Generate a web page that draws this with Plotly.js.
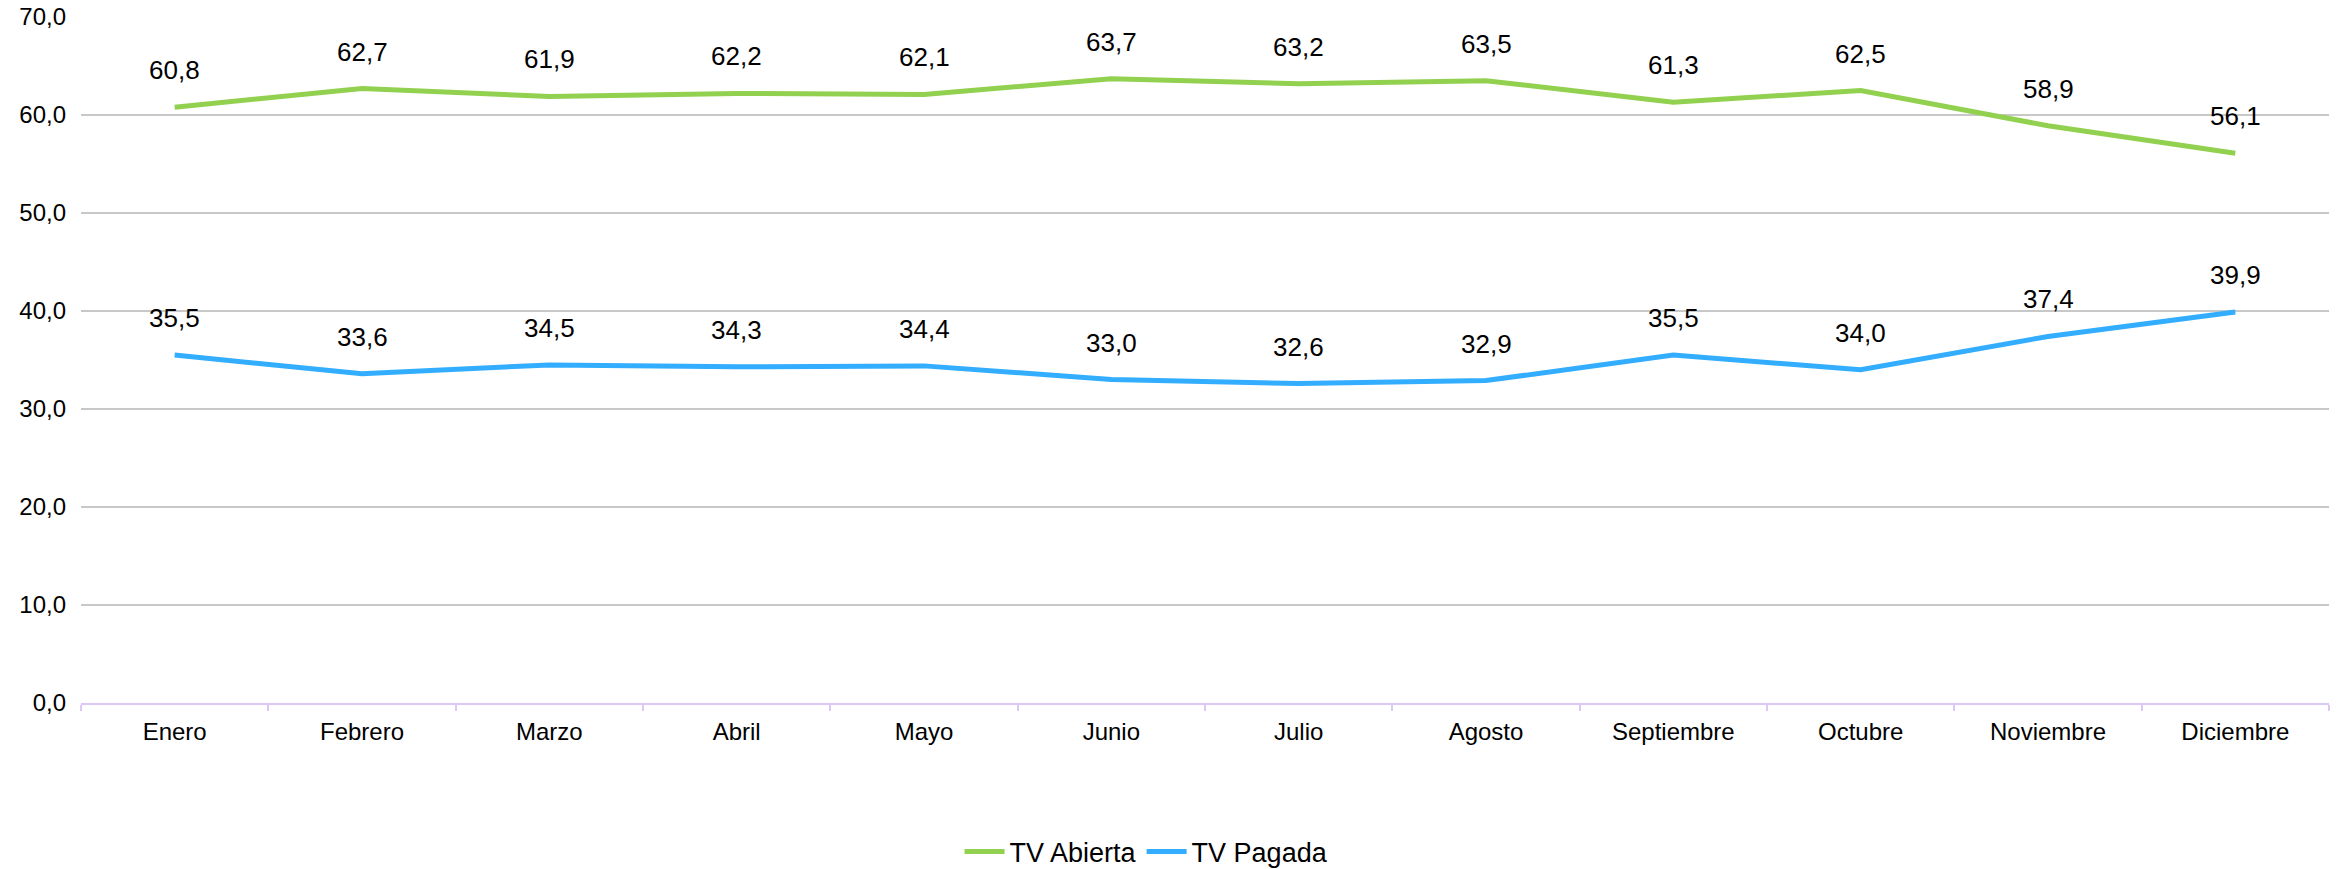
<!DOCTYPE html>
<html>
<head>
<meta charset="utf-8">
<script src="https://cdn.plot.ly/plotly-3.0.1.min.js"></script>
<style>html,body{margin:0;padding:0;background:#fff;}#chart{width:2341px;height:869px;}</style>
</head>
<body>
<div id="chart"></div>
<script>
const months = ["Enero","Febrero","Marzo","Abril","Mayo","Junio","Julio","Agosto","Septiembre","Octubre","Noviembre","Diciembre"];
const tvAbierta = [60.8, 62.7, 61.9, 62.2, 62.1, 63.7, 63.2, 63.5, 61.3, 62.5, 58.9, 56.1];
const tvPagada = [35.5, 33.6, 34.5, 34.3, 34.4, 33.0, 32.6, 32.9, 35.5, 34.0, 37.4, 39.9];
const yTicks = [0, 10, 20, 30, 40, 50, 60, 70];

const FONT = "Liberation Sans, Arial, sans-serif";
const fmt = v => v.toFixed(1).replace('.', ',');

const traces = [
  {x: months, y: tvAbierta, name: "TV Abierta", type: "scatter", mode: "lines",
   line: {color: "#92D050", width: 5}},
  {x: months, y: tvPagada, name: "TV Pagada", type: "scatter", mode: "lines",
   line: {color: "#33ADFF", width: 5}}
];

const annotations = [];
[tvAbierta, tvPagada].forEach(series => {
  series.forEach((v, i) => {
    annotations.push({x: months[i], y: v, xref: "x", yref: "y", text: fmt(v),
      showarrow: false, yshift: 37, font: {family: FONT, size: 26, color: "#000"}});
  });
});

const layout = {
  width: 2341, height: 869,
  margin: {l: 81, r: 12, t: 17, b: 166, autoexpand: false},
  paper_bgcolor: "#fff", plot_bgcolor: "#fff",
  separators: ",.",
  showlegend: true,
  legend: {orientation: "h", x: 0.474, xanchor: "center", y: -0.217, yanchor: "middle",
    itemwidth: 40, font: {family: FONT, size: 27, color: "#000"}},
  xaxis: {type: "category", range: [-0.5, months.length - 0.5], tickson: "boundaries",
    ticks: "outside", ticklen: 6, automargin: false,
    tickcolor: "#DCC8F5", tickwidth: 2, showline: true, linecolor: "#DCC8F5", linewidth: 2,
    showgrid: false, ticklabelstandoff: 6,
    tickfont: {family: FONT, size: 24, color: "#000"}},
  yaxis: {range: [0, 70], tickvals: yTicks, ticktext: yTicks.map(fmt), automargin: false,
    showgrid: true, gridcolor: "#C8C8C8", gridwidth: 1.5, zeroline: false,
    ticks: "", ticklabelstandoff: 14,
    tickfont: {family: FONT, size: 24, color: "#000"}},
  annotations: annotations
};

Plotly.newPlot("chart", traces, layout, {displayModeBar: false});
</script>
</body>
</html>
